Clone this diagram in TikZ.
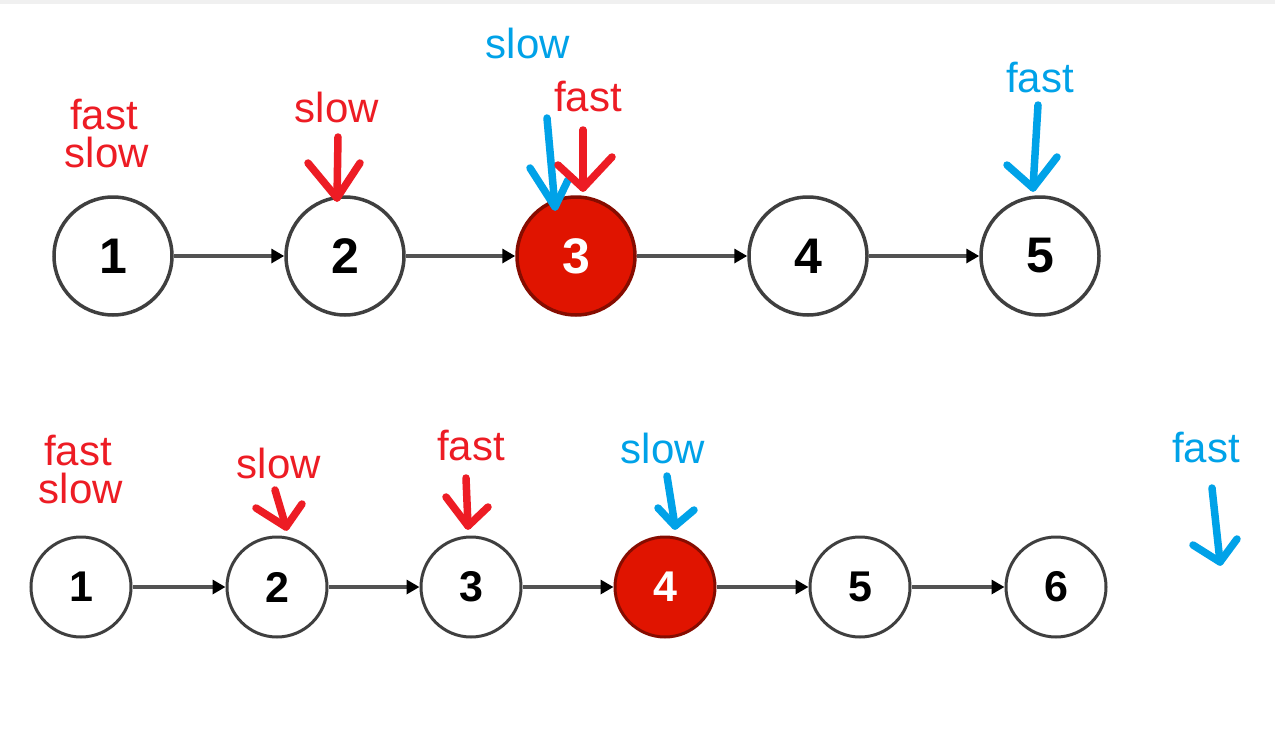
\documentclass[tikz,border=0pt]{standalone}
\usepackage{fontspec}
\setmainfont{Liberation Sans}
\usetikzlibrary{arrows.meta}
\definecolor{pred}{HTML}{ED1C24}
\definecolor{pblue}{HTML}{00A2E8}
\definecolor{nodered}{HTML}{E01400}
\definecolor{edgegray}{HTML}{3F3F3F}
\tikzset{
  lnode/.style={circle,draw=edgegray,line width=3.5pt,fill=white,inner sep=0pt,minimum size=118pt,
    font=\fontsize{50}{50}\selectfont\bfseries},
  snode/.style={circle,draw=edgegray,line width=3pt,fill=white,inner sep=0pt,minimum size=100pt,
    font=\fontsize{43}{43}\selectfont\bfseries},
  hot/.style={fill=nodered,draw=nodered!60!black,text=white},
  conn/.style={draw=edgegray!90,line width=4pt,-{Triangle[length=13pt,width=14pt,color=black]}},
  lbl/.style={anchor=base,inner sep=0pt,font=\fontsize{42}{42}\selectfont},
  ptr/.style={line width=7.5pt,line cap=round,line join=round},
}
\begin{document}
\begin{tikzpicture}[x=1pt,y=-1pt]
\useasboundingbox (0,0) rectangle (1275,744);
\fill[white] (0,0) rectangle (1275,744);
\fill[black!6] (0,0) rectangle (1275,4);

% ---- top list ----
\node[lnode] (a1) at (113,256) {1};
\node[lnode] (a2) at (345,256) {2};
\node[lnode,hot] (a3) at (576,256) {3};
\node[lnode] (a4) at (808,256) {4};
\node[lnode] (a5) at (1040,256) {5};
\draw[conn] (a1) -- (a2);
\draw[conn] (a2) -- (a3);
\draw[conn] (a3) -- (a4);
\draw[conn] (a4) -- (a5);

\node[lbl,text=pred] (tf1) at (104,129) {fast};
\node[lbl,text=pred] (ts1) at (107,167) {slow};
\node[lbl,text=pred] (ts2) at (337,122) {slow};
\node[lbl,text=pblue] (ts3) at (528,58) {slow};
\node[lbl,text=pred] (tf3) at (588,111) {fast};
\node[lbl,text=pblue] (tf5) at (1040,92) {fast};

% pointers (top)
\draw[ptr,pred] (338,137) -- (337,198);
\draw[ptr,pred] (308,163) -- (337,198) -- (360,163);
\draw[ptr,pblue] (547,118) -- (555,207);
\draw[ptr,pblue] (530,168) -- (555,207) -- (568,180);
\draw[ptr,pred] (583,130) -- (583,188);
\draw[ptr,pred] (558,165) -- (583,188) -- (612,157);
\draw[ptr,pblue] (1038,105) -- (1033,188);
\draw[ptr,pblue] (1007,165) -- (1033,188) -- (1057,157);

% ---- bottom list ----
\node[snode] (b1) at (81,587) {1};
\node[snode] (b2) at (277,587) {2};
\node[snode] (b3) at (471,587) {3};
\node[snode,hot] (b4) at (665,587) {4};
\node[snode] (b5) at (860,587) {5};
\node[snode] (b6) at (1056,587) {6};
\draw[conn] (b1) -- (b2);
\draw[conn] (b2) -- (b3);
\draw[conn] (b3) -- (b4);
\draw[conn] (b4) -- (b5);
\draw[conn] (b5) -- (b6);

\node[lbl,text=pred] (bf1) at (78,465) {fast};
\node[lbl,text=pred] (bs1) at (81,503) {slow};
\node[lbl,text=pred] (bs2) at (279,478) {slow};
\node[lbl,text=pred] (bf3) at (471,460) {fast};
\node[lbl,text=pblue] (bs4) at (663,463) {slow};
\node[lbl,text=pblue] (bf6) at (1206,462) {fast};

% pointers (bottom)
\draw[ptr,pred] (275,490) -- (286,527);
\draw[ptr,pred] (256,508) -- (286,527) -- (302,504);
\draw[ptr,pred] (466,478) -- (468,526);
\draw[ptr,pred] (446,497) -- (468,526) -- (488,507);
\draw[ptr,pblue] (667,476) -- (675,526);
\draw[ptr,pblue] (658,508) -- (675,526) -- (694,510);
\draw[ptr,pblue] (1212,488) -- (1220,562);
\draw[ptr,pblue] (1193,545) -- (1220,562) -- (1237,539);
\end{tikzpicture}
\end{document}
